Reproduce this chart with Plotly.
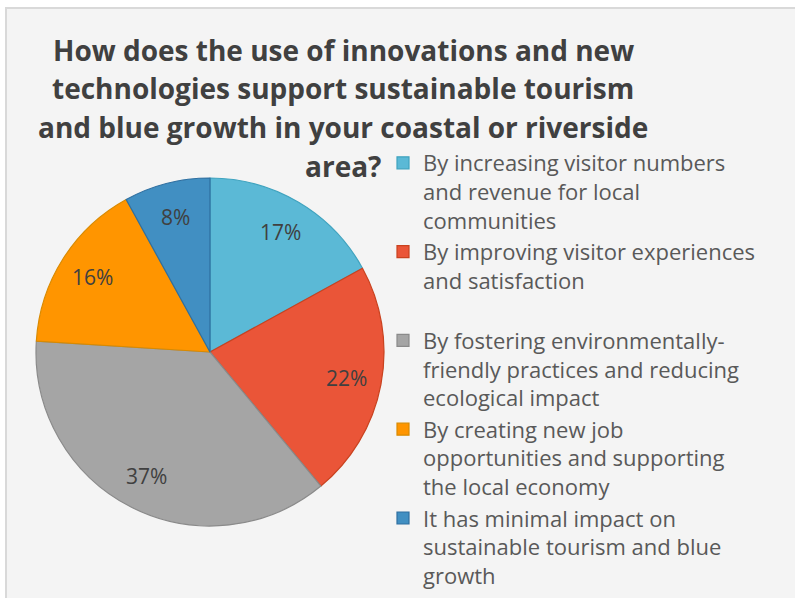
import math
import plotly.graph_objects as go

# Survey answers and their shares (%)
categories = [
    "By increasing visitor numbers<br>and revenue for local<br>communities",
    "By improving visitor experiences<br>and satisfaction<br> ",
    "By fostering environmentally-<br>friendly practices and reducing<br>ecological impact",
    "By creating new job<br>opportunities and supporting<br>the local economy",
    "It has minimal impact on<br>sustainable tourism and blue<br>growth",
]
shares = [17, 22, 37, 16, 8]

slice_colors = ["#5bb9d6", "#ea5538", "#a5a5a5", "#ff9500", "#418fc2"]
edge_colors = ["#3fa3bf", "#c9421f", "#8a8a8a", "#d98a00", "#2f6fa0"]

title_lines = [
    "How does the use of innovations and new",
    "technologies support sustainable tourism",
    "and blue growth in your coastal or riverside",
    "area?",
]

W, H = 795, 598
FONT = "Open Sans"
TXT = "#404040"

# Pie placement (pixels)
CX, CY, R = 210, 352, 174

fig = go.Figure()
fig.add_trace(go.Pie(
    labels=categories,
    values=shares,
    sort=False,
    direction="clockwise",
    rotation=0,
    marker=dict(colors=slice_colors, line=dict(color=edge_colors, width=1.2)),
    textinfo="none",
    hovertemplate="%{value}%<extra></extra>",
    domain=dict(x=[(CX - R) / W, (CX + R) / W], y=[1 - (CY + R) / H, 1 - (CY - R) / H]),
))

# Percentage labels placed on each slice's mid-angle, at 80% of the radius
total = sum(shares)
cum = 0
for v in shares:
    mid = (cum + v / 2) / total * 2 * math.pi
    cum += v
    px = CX + 0.8 * R * math.sin(mid)
    py = CY - 0.8 * R * math.cos(mid)
    fig.add_annotation(text=f"{v}%", xref="paper", yref="paper",
                       x=px / W, y=1 - py / H, xanchor="center", yanchor="middle",
                       showarrow=False, font=dict(family=FONT, size=21, color=TXT))

# Chart area panel
fig.add_shape(type="rect", xref="paper", yref="paper",
              x0=6 / W, x1=1.05, y0=-0.05, y1=1 - 8 / H,
              fillcolor="#f4f4f4", line=dict(color="#d9d9d9", width=2), layer="below")

for i, line in enumerate(title_lines):
    fig.add_annotation(text=f"<b>{line}</b>", xref="paper", yref="paper",
                       x=343 / W, y=1 - (50 + 38.5 * i) / H, xanchor="center", yanchor="middle",
                       showarrow=False, font=dict(family=FONT, size=28, color=TXT))

fig.update_layout(
    width=W, height=H,
    margin=dict(l=0, r=0, t=0, b=0),
    paper_bgcolor="white",
    showlegend=True,
    legend=dict(x=383 / W, y=1 - 142 / H, xanchor="left", yanchor="top",
                font=dict(family=FONT, size=22, color="#595959"),
                bgcolor="rgba(0,0,0,0)", itemwidth=30, traceorder="normal",
                valign="top"),
)

fig.write_html("out.html")
